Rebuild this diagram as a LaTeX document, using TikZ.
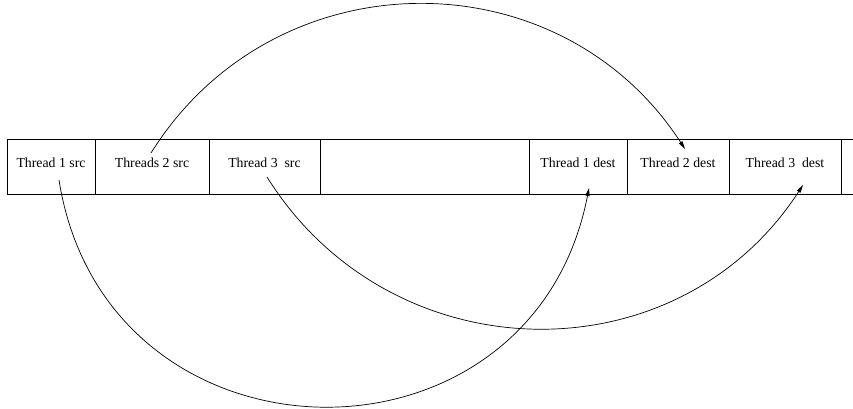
\documentclass[tikz,border=0pt]{standalone}
\usepackage{fontspec}
\setmainfont{Liberation Serif}
\usetikzlibrary{positioning}
\usetikzlibrary{arrows.meta}

\begin{document}
\begin{tikzpicture}[x=1pt,y=1pt,node distance=0pt,
	cell/.style={draw,line width=0.8pt,inner sep=0pt,outer sep=0pt,minimum height=55pt,text height=9pt,text depth=8pt,font=\fontsize{13.8}{16}\selectfont},
	move/.style={-{Triangle[length=8pt,width=4pt]},line width=0.7pt}]
	\useasboundingbox (0,0) rectangle (853,408);
	% the buffer
	\node [cell,minimum width=88pt] (src1) at (51,241.5) {Thread 1 src};
	\node [cell,minimum width=114pt,right=of src1] (src2) {Threads 2 src};
	\node [cell,minimum width=111pt,right=of src2] (src3) {Thread 3\ \ src};
	\node [cell,minimum width=98pt,right=209pt of src3] (dst1) {Thread 1 dest};
	\node [cell,minimum width=102pt,right=of dst1] (dst2) {Thread 2 dest};
	\node [cell,minimum width=112pt,right=of dst2] (dst3) {Thread 3\ \ dest};
	\coordinate (rim) at (853,0);
	\draw [line width=0.8pt] (src1.north west) -- (src1.north west -| rim) (src1.south west) -- (src1.south west -| rim);
	% ends of the copies
	\coordinate (s1) at ([shift={(8,-13.5)}]src1.center);
	\coordinate (s2) at ([shift={(-1,13.5)}]src2.center);
	\coordinate (s3) at ([shift={(2.5,-10.5)}]src3.center);
	\coordinate (d1) at ([shift={(11,-21.5)}]dst1.center);
	\coordinate (d2) at ([shift={(7,17.5)}]dst2.center);
	\coordinate (d3) at ([shift={(18,-18.5)}]dst3.center);
	\draw [move] (s2) to [out=58,in=123,looseness=1.11] (d2);
	\draw [move] (s1) to [out=-81,in=-101,looseness=1.45] (d1);
	\draw [move] (s3) to [out=-58,in=-123,looseness=1.11] (d3);
\end{tikzpicture}
\end{document}
